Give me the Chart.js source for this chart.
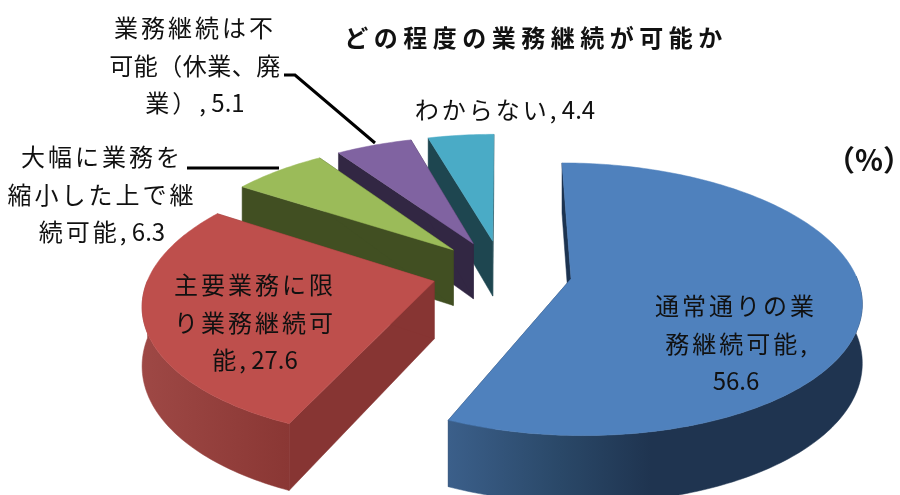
<!DOCTYPE html>
<html lang="ja">
<head>
<meta charset="utf-8">
<title>どの程度の業務継続が可能か</title>
<script src="https://cdn.jsdelivr.net/npm/chart.js@4"></script>
<style>
  html, body { margin: 0; background: #fff; }
  canvas { display: block; }
</style>
</head>
<body>
<canvas id="pieChart" width="900" height="495"></canvas>
<script>
const categories = ['通常通りの業務継続可能', '主要業務に限り業務継続可能', '大幅に業務を縮小した上で継続可能', '業務継続は不可能（休業、廃業）', 'わからない'];
const values = [56.6, 27.6, 6.3, 5.1, 4.4];
const chartTitle = 'どの程度の業務継続が可能か';
const unitLabel = '（%）';

// wrapped the way the original data labels wrap
const labelLines = [
  ['通常通りの業', '務継続可能,', '56.6'],
  ['主要業務に限', 'り業務継続可', '能, 27.6'],
  ['大幅に業務を', '縮小した上で継', '続可能, 6.3'],
  ['業務継続は不', '可能（休業、廃', '業）, 5.1'],
  ['わからない, 4.4']
];
// centre x and first line y of each label
const labelPos = [[736, 306], [255, 285], [102, 157], [195, 28], [505, 110]];
const labelRow = 37.5;

const topColors = ['#4F81BD', '#BE4F4C', '#9BBB59', '#8063A1', '#4AABC6'];
const wallColors = ['#1C3350', '#873533', '#414F22', '#322743', '#1E4650'];
// gradient stops of the outer rim, left to right
const rimColors = [
  [[0, '#3B5F8A'], [0.27, '#2A4868'], [0.49, '#1F3450'], [1, '#1F3450']],
  [[0, '#9E4845'], [1, '#8A3734']]
];

// fake 3D: tilt and perspective of the Excel pie
const tilt = 0.462;
const focal = 1900;
const depth = 57;
const explode = 70;

function project(cx, cy, X, Z) {
  const s = focal / (focal - Z);
  return { x: cx + X * s, y: cy + tilt * Z * s, s: s };
}

function fillPath(ctx, pts, fill) {
  ctx.beginPath();
  pts.forEach((p, i) => i ? ctx.lineTo(p.x, p.y) : ctx.moveTo(p.x, p.y));
  ctx.closePath();
  ctx.fillStyle = fill;
  ctx.fill();
  ctx.strokeStyle = fill;
  ctx.lineWidth = 0.5;
  ctx.stroke();
}

function lower(p) {
  return { x: p.x, y: p.y + depth * p.s, s: p.s };
}

function drawSlice(ctx, arc, i) {
  const mid = (arc.startAngle + arc.endAngle) / 2;
  const ox = Math.cos(mid) * explode;
  const oz = Math.sin(mid) * explode;
  const apex = project(arc.x, arc.y, ox, oz);
  const rim = [];
  const front = [];
  const steps = Math.ceil((arc.endAngle - arc.startAngle) * 180 / Math.PI);
  for (let n = 0; n <= steps; n++) {
    const a = arc.startAngle + (arc.endAngle - arc.startAngle) * n / steps;
    const p = project(arc.x, arc.y, ox + Math.cos(a) * arc.outerRadius, oz + Math.sin(a) * arc.outerRadius);
    rim.push(p);
    // the back of the rim is never seen
    if (Math.sin(a) > -0.02) front.push(p);
  }
  const first = rim[0];
  const last = rim[rim.length - 1];
  fillPath(ctx, [apex, first, lower(first), lower(apex)], wallColors[i]);
  fillPath(ctx, [apex, last, lower(last), lower(apex)], wallColors[i]);

  if (front.length > 1) {
    const xs = rim.map(p => p.x);
    const grad = ctx.createLinearGradient(Math.min(...xs), 0, Math.max(...xs), 0);
    rimColors[i].forEach(stop => grad.addColorStop(stop[0], stop[1]));
    fillPath(ctx, front.concat(front.map(lower).reverse()), grad);
  }

  fillPath(ctx, [apex].concat(rim), arc.options.backgroundColor);
}

// kana and kanji are set wide in the original, digits are not
function drawLine(ctx, text, x, y, font, cjkSpacing) {
  const runs = text.match(/[\x20-\x7e]+|[^\x20-\x7e]+/g);
  ctx.font = font;
  ctx.textAlign = 'left';
  const spacingOf = run => (/^[\x20-\x7e]/.test(run) ? 0 : cjkSpacing) + 'px';
  let total = 0;
  const widths = runs.map(run => {
    ctx.letterSpacing = spacingOf(run);
    const w = ctx.measureText(run).width;
    total += w;
    return w;
  });
  let left = x - total / 2;
  runs.forEach((run, n) => {
    ctx.letterSpacing = spacingOf(run);
    ctx.fillText(run, left, y);
    left += widths[n];
  });
}

const pie3d = {
  id: 'pie3d',
  beforeDatasetsDraw(chart) {
    const ctx = chart.ctx;
    const arcs = chart.getDatasetMeta(0).data;
    ctx.save();
    // back slices first, the big blue one last
    for (let i = arcs.length - 1; i >= 0; i--) {
      drawSlice(ctx, arcs[i], i);
    }
    ctx.restore();
    return false;
  },
  afterDraw(chart) {
    const ctx = chart.ctx;
    const font = '24px "Noto Sans CJK JP"';
    ctx.save();
    ctx.fillStyle = '#111';
    ctx.textBaseline = 'middle';

    labelLines.forEach((lines, i) => {
      lines.forEach((line, n) => {
        // the bracket line is squeezed in the original
        const spacing = line.includes('（') ? 0.5 : 3;
        drawLine(ctx, line, labelPos[i][0], labelPos[i][1] + n * labelRow, font, spacing);
      });
    });
    drawLine(ctx, chartTitle, 536, 38, 'bold 24px "Noto Sans CJK JP"', 5.5);
    drawLine(ctx, unitLabel, 869, 160, 'bold 29px "Noto Sans CJK JP"', 0);

    // leader lines
    ctx.strokeStyle = '#000';
    ctx.lineWidth = 3;
    ctx.beginPath();
    ctx.moveTo(284, 75);
    ctx.lineTo(295, 75);
    ctx.lineTo(375, 143);
    ctx.moveTo(187, 168);
    ctx.lineTo(279, 168);
    ctx.stroke();
    ctx.restore();
  }
};

new Chart(document.getElementById('pieChart'), {
  type: 'pie',
  data: {
    labels: categories,
    datasets: [{
      data: values,
      backgroundColor: topColors,
      borderWidth: 0,
      radius: 284
    }]
  },
  options: {
    responsive: false,
    devicePixelRatio: 1,
    animation: false,
    events: [],
    layout: { padding: { left: 104, top: 49 } },
    plugins: { legend: { display: false }, tooltip: { enabled: false } }
  },
  plugins: [pie3d]
});
</script>
</body>
</html>
